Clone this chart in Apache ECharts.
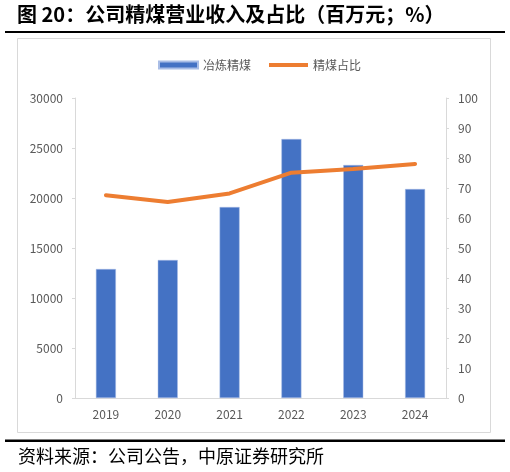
<!DOCTYPE html>
<html>
<head>
  <meta charset="utf-8" />
  <title>公司精煤营业收入及占比</title>
  <script src="https://cdn.jsdelivr.net/npm/echarts@6/dist/echarts.min.js"></script>
  <style>
    html, body { margin: 0; padding: 0; background: #fff; }
  </style>
</head>
<body>
<div id="main" style="width:510px;height:472px;"></div>
<script type="text/javascript">
  // 数据
  var years = ['2019', '2020', '2021', '2022', '2023', '2024'];
  var cokingCoal = [12900, 13800, 19100, 25900, 23300, 20900];   // 冶炼精煤（百万元）
  var coalShare = [67.6, 65.3, 68.2, 75.1, 76.3, 78.0];          // 精煤占比（%）
  var leftTicks = { min: 0, max: 30000, interval: 5000 };
  var rightTicks = { min: 0, max: 100, interval: 10 };

  var grey = '#595959';
  var axisGrey = '#d9d9d9';
  var cjk = '"Noto Sans CJK SC", "Noto Sans", sans-serif';

  var myChart = echarts.init(document.getElementById('main'));
  var option = {
    backgroundColor: '#fff',
    animation: false,
    textStyle: { fontFamily: cjk },
    graphic: [
      {
        type: 'text', left: 17, top: 4,
        style: { text: '图 20：公司精煤营业收入及占比（百万元；%）', font: 'bold 20px ' + cjk, fill: '#000' }
      },
      { type: 'rect', shape: { x: 5, y: 31, width: 500, height: 2 }, style: { fill: '#000' } },
      { type: 'rect', shape: { x: 17.5, y: 38.5, width: 473, height: 394 }, style: { fill: 'none', stroke: axisGrey, lineWidth: 1 } },
      { type: 'rect', shape: { x: 5, y: 439.5, width: 500, height: 2.5 }, style: { fill: '#000' } },
      {
        type: 'text', left: 18, top: 447,
        style: { text: '资料来源：公司公告，中原证券研究所', font: '18px ' + cjk, fill: '#000' }
      }
    ],
    legend: {
      top: 54,
      left: 153,
      itemWidth: 39,
      itemHeight: 7,
      itemGap: 18,
      textStyle: { color: grey, fontSize: 12 },
      data: [
        { name: '冶炼精煤', icon: 'rect' },
        { name: '精煤占比', icon: 'path://M0,0 L40,0 L40,4 L0,4 Z' }
      ]
    },
    grid: { left: 75, right: 64, top: 98, bottom: 74 },
    xAxis: {
      type: 'category',
      data: years,
      axisLine: { lineStyle: { color: axisGrey } },
      axisTick: { show: false },
      axisLabel: { color: grey, fontSize: 12, margin: 10 }
    },
    yAxis: [
      {
        type: 'value',
        min: leftTicks.min, max: leftTicks.max, interval: leftTicks.interval,
        splitLine: { show: false },
        axisLine: { show: true, lineStyle: { color: axisGrey } },
        axisTick: { show: true, length: 3, lineStyle: { color: axisGrey } },
        axisLabel: { color: grey, fontSize: 12, margin: 12, formatter: function (v) { return String(v); } }
      },
      {
        type: 'value',
        min: rightTicks.min, max: rightTicks.max, interval: rightTicks.interval,
        splitLine: { show: false },
        axisLine: { show: true, lineStyle: { color: axisGrey } },
        axisTick: { show: true, length: 3, lineStyle: { color: axisGrey } },
        axisLabel: { color: grey, fontSize: 12, margin: 12 }
      }
    ],
    series: [
      {
        name: '冶炼精煤',
        type: 'bar',
        yAxisIndex: 0,
        barWidth: 20,
        data: cokingCoal,
        itemStyle: { color: '#4472C4', borderColor: '#a9bde6', borderWidth: 0.5 }
      },
      {
        name: '精煤占比',
        type: 'line',
        yAxisIndex: 1,
        data: coalShare,
        symbol: 'none',
        lineStyle: { color: '#ED7D31', width: 4, cap: 'round', join: 'round' },
        itemStyle: { color: '#ED7D31' }
      }
    ]
  };
  myChart.setOption(option);
</script>
</body>
</html>
